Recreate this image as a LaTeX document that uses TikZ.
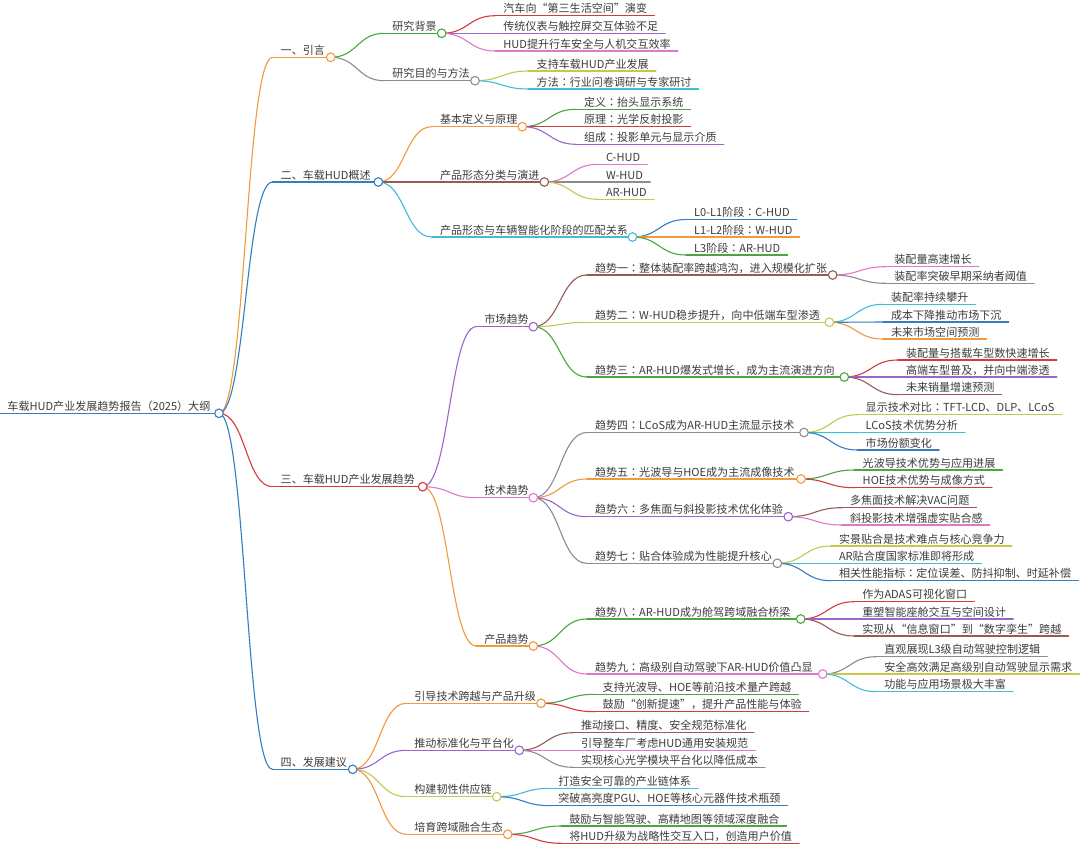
\documentclass[tikz,border=0pt]{standalone}
\usepackage{fontspec}
\setmainfont{Noto Sans CJK SC}
\newfontfamily\tcf{Noto Sans CJK TC}
\newcommand\cq{{\tcf ：}}
\newcommand\lpar{{\tcf （}}
\newcommand\rpar{{\tcf ）}}
\usetikzlibrary{calc}
\pgfdeclarelayer{bg}
\pgfsetlayers{bg,main}
\definecolor{txtc}{HTML}{3C3C3C}
\definecolor{cor}{RGB}{243,152,60}
\definecolor{cbl}{RGB}{52,125,190}
\definecolor{crd}{RGB}{214,57,62}
\definecolor{cgr}{RGB}{72,167,62}
\definecolor{cgy}{RGB}{140,140,140}
\definecolor{cpu}{RGB}{153,102,204}
\definecolor{cpk}{RGB}{224,120,200}
\definecolor{cyl}{RGB}{197,200,78}
\definecolor{ccy}{RGB}{64,190,216}
\definecolor{cbr}{RGB}{152,90,85}
\tikzset{
  txt/.style={font=\fontsize{11.05}{13}\selectfont, text=txtc, inner sep=0pt, anchor=base west},
  dot/.style={circle, fill=white, line width=1.1pt, minimum size=8.6pt, inner sep=0pt},
  ln/.style={line width=1.1pt, line cap=round},
}
% #1 name, #2 parent, #3 y (px from top), #4 colour, #5 n (inner) or l (leaf), #6 text, #7 circle x (inner only)
\newcommand\topic[7]{%
  \path let \p1=(#2c) in ({\x1+53.5pt},{-#3pt}) coordinate (#1s);
  \node[txt] (#1) at ($(#1s)+(8pt,3pt)$) {#6};
  \begin{pgfonlayer}{bg}
    \draw[ln,#4] let \p1=(#2c.center), \p2=(#1s) in (\p1) .. controls ({0.5*\x1+0.5*\x2},\y1) and ({0.5*\x1+0.5*\x2},\y2) .. (\p2);
  \end{pgfonlayer}
  \if n#5
    \node[dot,draw=#4] (#1c) at (#7,-#3) {};
    \begin{pgfonlayer}{bg}
      \draw[ln,#4] (#1s) -- (#1c.center);
    \end{pgfonlayer}
  \else
    \begin{pgfonlayer}{bg}
      \draw[ln,#4] let \p2=(#1.east) in (#1s) -- ({\x2+7pt},{-#3pt});
    \end{pgfonlayer}
  \fi
}
\begin{document}
\begin{tikzpicture}[x=1pt,y=1pt]
\begin{pgfonlayer}{bg}
\fill[white] (0,0) rectangle (1080,-852);
\end{pgfonlayer}
\useasboundingbox (0,0) rectangle (1080,-852);
% root
\coordinate (roots) at (0,-413.3);
\node[txt] (root) at (7.3,-410.3) {车载HUD产业发展趋势报告\lpar 2025\rpar 大纲};
\node[dot,draw=cbl] (rootc) at (219,-413.3) {};
\begin{pgfonlayer}{bg}\draw[ln,cbl] (roots) -- (rootc.center);\end{pgfonlayer}
% level 1
\topic{A}{root}{57.3}{cor}{n}{一、引言}{330.7}
\topic{B}{root}{182}{cbl}{n}{二、车载HUD概述}{378.3}
\topic{C}{root}{486.7}{crd}{n}{三、车载HUD产业发展趋势}{422.7}
\topic{D}{root}{769.3}{cbl}{n}{四、发展建议}{352.7}
% A
\topic{A1}{A}{33.3}{cgr}{n}{研究背景}{441.7}
\topic{A2}{A}{80.7}{cgy}{n}{研究目的与方法}{475}
\topic{A11}{A1}{15.7}{crd}{l}{汽车向“第三生活空间”演变}{}
\topic{A12}{A1}{33.3}{cpu}{l}{传统仪表与触控屏交互体验不足}{}
\topic{A13}{A1}{51}{cpk}{l}{HUD提升行车安全与人机交互效率}{}
\topic{A21}{A2}{71}{cyl}{l}{支持车载HUD产业发展}{}
\topic{A22}{A2}{89}{ccy}{l}{方法\cq 行业问卷调研与专家研讨}{}
% B
\topic{B1}{B}{126.7}{cor}{n}{基本定义与原理}{522.3}
\topic{B2}{B}{182}{cbr}{n}{产品形态分类与演进}{544.3}
\topic{B3}{B}{237}{ccy}{n}{产品形态与车辆智能化阶段的匹配关系}{632.5}
\topic{B11}{B1}{109.3}{cgr}{l}{定义\cq 抬头显示系统}{}
\topic{B12}{B1}{126.7}{crd}{l}{原理\cq 光学反射投影}{}
\topic{B13}{B1}{144.3}{cpu}{l}{组成\cq 投影单元与显示介质}{}
\topic{B21}{B2}{164.3}{cpk}{l}{C-HUD}{}
\topic{B22}{B2}{182}{cgy}{l}{W-HUD}{}
\topic{B23}{B2}{199.3}{cyl}{l}{AR-HUD}{}
\topic{B31}{B3}{219.5}{cbl}{l}{L0-L1阶段\cq C-HUD}{}
\topic{B32}{B3}{237}{cor}{l}{L1-L2阶段\cq W-HUD}{}
\topic{B33}{B3}{255}{cgr}{l}{L3阶段\cq AR-HUD}{}
% C
\topic{C1}{C}{326.7}{cpu}{n}{市场趋势}{533.3}
\topic{C2}{C}{497.7}{cpk}{n}{技术趋势}{533.3}
\topic{C3}{C}{646}{cor}{n}{产品趋势}{533.3}
\topic{C11}{C1}{275}{cbr}{n}{趋势一\cq 整体装配率跨越鸿沟，进入规模化扩张}{832.7}
\topic{C12}{C1}{322.3}{cyl}{n}{趋势二\cq W-HUD稳步提升，向中低端车型渗透}{829.3}
\topic{C13}{C1}{377}{cgr}{n}{趋势三\cq AR-HUD爆发式增长，成为主流演进方向}{844.3}
\topic{C111}{C11}{266.7}{cpk}{l}{装配量高速增长}{}
\topic{C112}{C11}{283.3}{cgy}{l}{装配率突破早期采纳者阈值}{}
\topic{C121}{C12}{304.3}{ccy}{l}{装配率持续攀升}{}
\topic{C122}{C12}{322}{cbl}{l}{成本下降推动市场下沉}{}
\topic{C123}{C12}{339}{cor}{l}{未来市场空间预测}{}
\topic{C131}{C13}{360}{crd}{l}{装配量与搭载车型数快速增长}{}
\topic{C132}{C13}{377}{cpu}{l}{高端车型普及，并向中端渗透}{}
\topic{C133}{C13}{394.7}{cbr}{l}{未来销量增速预测}{}
\topic{C21}{C2}{432.5}{cgy}{n}{趋势四\cq LCoS成为AR-HUD主流显示技术}{804}
\topic{C22}{C2}{479}{cor}{n}{趋势五\cq 光波导与HOE成为主流成像技术}{801}
\topic{C23}{C2}{516.7}{cpu}{n}{趋势六\cq 多焦面与斜投影技术优化体验}{788.3}
\topic{C24}{C2}{563.3}{cgy}{n}{趋势七\cq 贴合体验成为性能提升核心}{777.3}
\topic{C211}{C21}{414.7}{cyl}{l}{显示技术对比\cq TFT-LCD、DLP、LCoS}{}
\topic{C212}{C21}{432.7}{ccy}{l}{LCoS技术优势分析}{}
\topic{C213}{C21}{450}{cbl}{l}{市场份额变化}{}
\topic{C221}{C22}{470}{cgr}{l}{光波导技术优势与应用进展}{}
\topic{C222}{C22}{487.7}{crd}{l}{HOE技术优势与成像方式}{}
\topic{C231}{C23}{507.7}{cbr}{l}{多焦面技术解决VAC问题}{}
\topic{C232}{C23}{525}{cpk}{l}{斜投影技术增强虚实贴合感}{}
\topic{C241}{C24}{546}{cyl}{l}{实景贴合是技术难点与核心竞争力}{}
\topic{C242}{C24}{563.3}{ccy}{l}{AR贴合度国家标准即将形成}{}
\topic{C243}{C24}{580.7}{cbl}{l}{相关性能指标\cq 定位误差、防抖抑制、时延补偿}{}
\topic{C31}{C3}{619}{cgr}{n}{趋势八\cq AR-HUD成为舱驾跨域融合桥梁}{800.7}
\topic{C32}{C3}{674}{cpk}{n}{趋势九\cq 高级别自动驾驶下AR-HUD价值凸显}{822.7}
\topic{C311}{C31}{601.7}{crd}{l}{作为ADAS可视化窗口}{}
\topic{C312}{C31}{619}{cpu}{l}{重塑智能座舱交互与空间设计}{}
\topic{C313}{C31}{636}{cbr}{l}{实现从“信息窗口”到“数字孪生”跨越}{}
\topic{C321}{C32}{656.7}{cgy}{l}{直观展现L3级自动驾驶控制逻辑}{}
\topic{C322}{C32}{674}{cyl}{l}{安全高效满足高级别自动驾驶显示需求}{}
\topic{C323}{C32}{691.7}{ccy}{l}{功能与应用场景极大丰富}{}
% D
\topic{D1}{D}{703.3}{cor}{n}{引导技术跨越与产品升级}{541}
\topic{D2}{D}{750.3}{cpu}{n}{推动标准化与平台化}{519.3}
\topic{D3}{D}{796.7}{cyl}{n}{构建韧性供应链}{496.7}
\topic{D4}{D}{834.3}{cor}{n}{培育跨域融合生态}{507.7}
\topic{D11}{D1}{694.3}{cgr}{l}{支持光波导、HOE等前沿技术量产跨越}{}
\topic{D12}{D1}{711.7}{crd}{l}{鼓励“创新提速”，提升产品性能与体验}{}
\topic{D21}{D2}{732.7}{cbr}{l}{推动接口、精度、安全规范标准化}{}
\topic{D22}{D2}{750.3}{cpk}{l}{引导整车厂考虑HUD通用安装规范}{}
\topic{D23}{D2}{767.3}{cgy}{l}{实现核心光学模块平台化以降低成本}{}
\topic{D31}{D3}{788.3}{ccy}{l}{打造安全可靠的产业链体系}{}
\topic{D32}{D3}{805.7}{cbl}{l}{突破高亮度PGU、HOE等核心元器件技术瓶颈}{}
\topic{D41}{D4}{826}{cgr}{l}{鼓励与智能驾驶、高精地图等领域深度融合}{}
\topic{D42}{D4}{843.3}{crd}{l}{将HUD升级为战略性交互入口，创造用户价值}{}
\end{tikzpicture}
\end{document}
